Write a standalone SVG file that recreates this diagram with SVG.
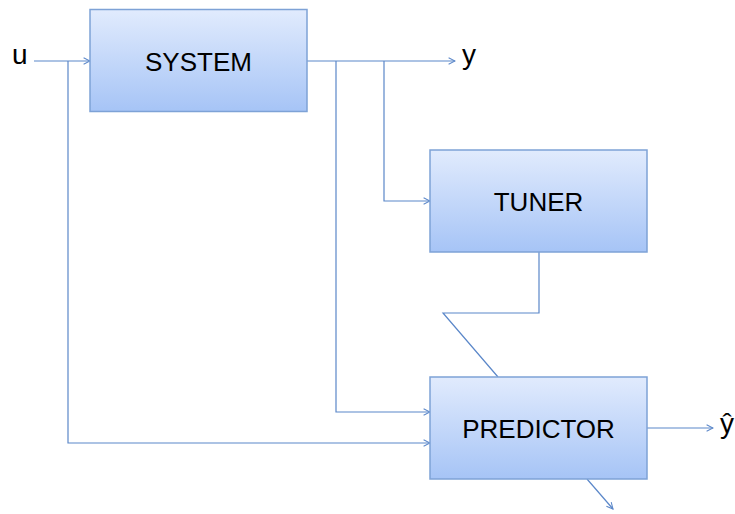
<svg xmlns="http://www.w3.org/2000/svg" width="735" height="514" viewBox="0 0 735 514">
  <defs>
    <linearGradient id="boxFill" x1="0" y1="0" x2="0" y2="1">
      <stop offset="0" stop-color="#e1ebfd"/>
      <stop offset="1" stop-color="#a6c4f6"/>
    </linearGradient>
    <marker id="open" viewBox="0 0 10 10" refX="9" refY="5" markerWidth="8" markerHeight="8" markerUnits="userSpaceOnUse" orient="auto">
      <path d="M1,1 L9,5 L1,9" fill="none" stroke="#5b87c9" stroke-width="1.3"/>
    </marker>
    <style>
      .box { fill: url(#boxFill); stroke: #7ea2d6; stroke-width: 1.5; }
      .lbl { font-family: "Liberation Sans", Arial, sans-serif; font-size: 26px; fill: #000; text-anchor: middle; }
      .sig { font-family: "Liberation Sans", Arial, sans-serif; font-size: 28px; fill: #000; }
      .wire { fill: none; stroke: #5b87c9; stroke-width: 1.2; }
    </style>
  </defs>

  <!-- signal connections -->
  <g id="connectors">
    <path class="wire" d="M34,61 H90" marker-end="url(#open)"/>
    <path class="wire" d="M68,61 V443 H430" marker-end="url(#open)"/>
    <path class="wire" d="M307,61 H455" marker-end="url(#open)"/>
    <path class="wire" d="M384,61 V201 H430" marker-end="url(#open)"/>
    <path class="wire" d="M336,61 V412 H430" marker-end="url(#open)"/>
    <path class="wire" d="M539,252 V313 H443 L498,377"/>
    <path class="wire" d="M647,428 H713" marker-end="url(#open)"/>
    <path class="wire" d="M587,479 L613,509" marker-end="url(#open)"/>
  </g>

  <g id="system">
    <rect class="box" x="90" y="9.5" width="217" height="102"/>
    <text class="lbl" x="198.5" y="71">SYSTEM</text>
  </g>

  <g id="tuner">
    <rect class="box" x="430" y="150" width="217" height="102"/>
    <text class="lbl" x="538.5" y="211">TUNER</text>
  </g>

  <g id="predictor">
    <rect class="box" x="430" y="377" width="217" height="102"/>
    <text class="lbl" x="538.5" y="438">PREDICTOR</text>
  </g>

  <g id="signals">
    <text class="sig" x="12" y="64">u</text>
    <text class="sig" x="462" y="64">y</text>
    <text class="sig" x="720" y="433">ŷ</text>
  </g>
</svg>
